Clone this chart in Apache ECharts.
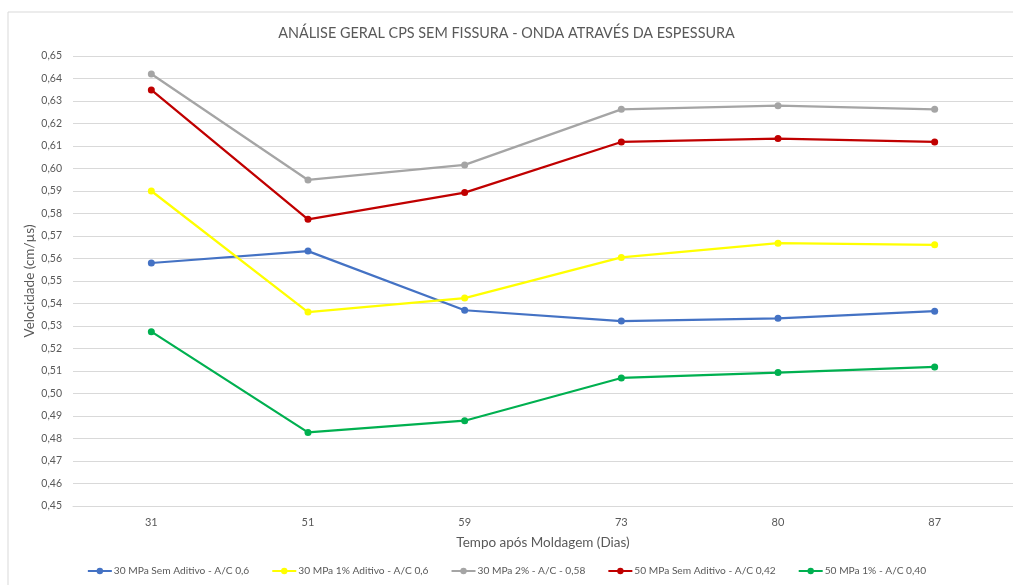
<!DOCTYPE html>
<html>
<head>
<meta charset="utf-8">
<script src="https://cdn.jsdelivr.net/npm/echarts@6/dist/echarts.min.js"></script>
<style>
  html, body { margin: 0; padding: 0; background: #fff; }
  #chart { width: 1013px; height: 585px; }
</style>
</head>
<body>
<div id="chart"></div>
<script>
var dias = ['31', '51', '59', '73', '80', '87'];

var s30SemAditivo = [0.558, 0.5633, 0.537, 0.5322, 0.5334, 0.5366];
var s30Aditivo1   = [0.590, 0.5362, 0.5424, 0.5605, 0.5668, 0.5661];
var s30Dois       = [0.642, 0.5949, 0.6016, 0.6263, 0.6279, 0.6263];
var s50SemAditivo = [0.6349, 0.5774, 0.5893, 0.6118, 0.6133, 0.6118];
var s50Um         = [0.5275, 0.4827, 0.4879, 0.5069, 0.5093, 0.5118];

var nomes = [
    '30 MPa Sem Aditivo - A/C 0,6',
    '30 MPa 1% Aditivo - A/C 0,6',
    '30 MPa 2% - A/C - 0,58',
    '50 MPa Sem Aditivo - A/C 0,42',
    '50 MPa 1% - A/C 0,40'
];
var cores = ['#4472C4', '#FFFF00', '#A5A5A5', '#C00000', '#00B050'];
var valores = [s30SemAditivo, s30Aditivo1, s30Dois, s50SemAditivo, s50Um];

var FONT = 'Lato';
var chart = echarts.init(document.getElementById('chart'));

function serie(i) {
    return {
        name: nomes[i], type: 'line', data: valores[i],
        symbol: 'circle', symbolSize: 7,
        lineStyle: { color: cores[i], width: 2.25 },
        itemStyle: { color: cores[i] },
        emphasis: { disabled: true }
    };
}

chart.setOption({
    animation: false,
    textStyle: { fontFamily: FONT },
    title: {
        text: 'ANÁLISE GERAL CPS SEM FISSURA - ONDA ATRAVÉS DA ESPESSURA',
        left: 'center', top: 21,
        textStyle: { fontSize: 14.4, fontWeight: 'normal', color: '#595959', fontFamily: FONT }
    },
    graphic: [{
        type: 'polyline',
        shape: { points: [[8, 600], [8, 12], [1020, 12]] },
        style: { stroke: '#d9d9d9', lineWidth: 1, fill: null }
    }],
    legend: {
        bottom: 4, left: 'center',
        itemWidth: 24, itemHeight: 8, itemGap: 22,
        textStyle: { fontSize: 10.2, color: '#595959', fontFamily: FONT, padding: [0, 0, 0, -3] },
        data: nomes.map(function (n) { return { name: n }; })
    },
    grid: { left: 73, right: -1, top: 56, bottom: 79 },
    xAxis: {
        type: 'category', data: dias, boundaryGap: true,
        name: 'Tempo após Moldagem (Dias)', nameLocation: 'middle', nameGap: 30,
        nameMoveOverlap: false,
        nameTextStyle: { fontSize: 13.5, color: '#595959' },
        axisLine: { lineStyle: { color: '#d9d9d9' } },
        axisTick: { show: false },
        axisLabel: { fontSize: 11, color: '#595959', margin: 11 }
    },
    yAxis: {
        type: 'value', min: 0.45, max: 0.65, interval: 0.01,
        name: 'Velocidade (cm/µs)', nameLocation: 'middle', nameGap: 36,
        nameMoveOverlap: false,
        nameTextStyle: { fontSize: 13.5, color: '#595959' },
        axisLine: { show: false }, axisTick: { show: false },
        axisLabel: {
            fontSize: 10.5, color: '#595959', margin: 11,
            formatter: function (v) { return v.toFixed(2).replace('.', ','); }
        },
        splitLine: { lineStyle: { color: '#d9d9d9', width: 1 } }
    },
    series: [serie(0), serie(1), serie(2), serie(3), serie(4)]
});
</script>
</body>
</html>
